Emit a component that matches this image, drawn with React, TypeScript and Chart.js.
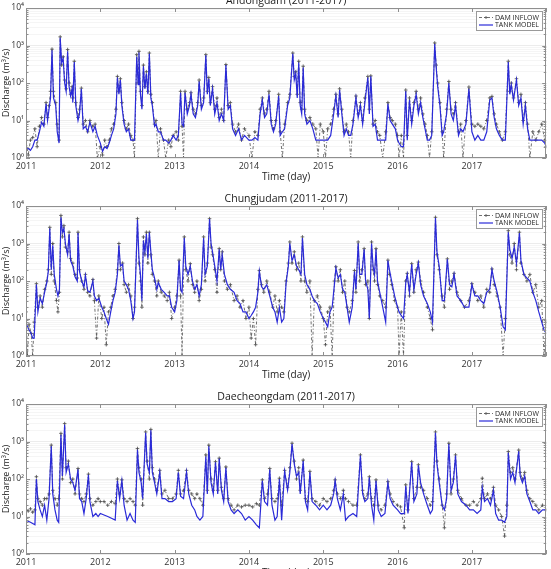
import React, { useEffect, useRef } from 'react';
import { Chart, registerables } from 'chart.js';

Chart.register(...registerables);

const FONT = '"Open Sans", "DejaVu Sans", sans-serif';
const BLUE = '#2a2ad8';
const GRAY = '#4d4d4d';

const yearTicks = [2011, 2012, 2013, 2014, 2015, 2016, 2017, 2018];
const yearLabels = ['2011', '2012', '2013', '2014', '2015', '2016', '2017', ''];
const decadeTicks = [1, 10, 100, 1000, 10000];
const decadeLabels = ['10⁰', '10¹', '10²', '10³', '10⁴'];
const seriesNames = ['DAM INFLOW', 'TANK MODEL'];
const panelTitles = ['Andongdam (2011-2017)', 'Chungjudam (2011-2017)', 'Daecheongdam (2011-2017)'];
const xAxisTitle = 'Time (day)';
const yAxisTitle = 'Discharge (m³/s)';

// ---------------- Andongdam ----------------
const andongT = [
  2011.00,2011.03,2011.06,2011.09,2011.12,2011.15,2011.18,2011.21,2011.24,2011.27,
  2011.29,2011.31,2011.33,2011.35,2011.37,2011.40,2011.42,2011.445,2011.46,2011.48,
  2011.50,2011.52,2011.54,2011.56,2011.58,2011.60,2011.62,2011.63,2011.65,2011.67,
  2011.70,2011.72,2011.745,2011.77,2011.80,2011.83,2011.86,2011.90,2011.93,2011.96,
  2012.00,2012.03,2012.06,2012.09,2012.12,2012.15,2012.18,2012.21,2012.23,2012.25,
  2012.27,2012.29,2012.32,2012.35,2012.38,2012.41,2012.44,2012.46,2012.49,2012.51,
  2012.52,2012.54,2012.56,2012.58,2012.60,2012.62,2012.64,2012.66,2012.68,2012.70,
  2012.73,2012.75,2012.78,2012.81,2012.85,2012.88,2012.92,2012.95,2012.98,2013.02,
  2013.05,2013.08,2013.10,2013.12,2013.14,2013.17,2013.20,2013.22,2013.25,2013.28,
  2013.31,2013.33,2013.36,2013.39,2013.42,2013.44,2013.46,2013.48,2013.51,2013.54,
  2013.57,2013.60,2013.63,2013.66,2013.69,2013.72,2013.75,2013.78,2013.82,2013.86,
  2013.90,2013.94,2014.00,2014.04,2014.08,2014.12,2014.15,2014.18,2014.21,2014.24,
  2014.27,2014.30,2014.33,2014.36,2014.40,2014.42,2014.45,2014.48,2014.52,2014.55,
  2014.59,2014.61,2014.63,2014.65,2014.67,2014.69,2014.71,2014.73,2014.75,2014.78,
  2014.82,2014.86,2014.90,2014.93,2014.96,2015.00,2015.03,2015.06,2015.10,2015.14,
  2015.17,2015.20,2015.22,2015.25,2015.28,2015.31,2015.34,2015.37,2015.40,2015.44,
  2015.47,2015.50,2015.53,2015.56,2015.60,2015.62,2015.64,2015.67,2015.70,2015.73,
  2015.76,2015.80,2015.84,2015.87,2015.90,2015.93,2015.97,2016.00,2016.02,2016.05,
  2016.08,2016.11,2016.13,2016.16,2016.19,2016.22,2016.25,2016.28,2016.31,2016.34,
  2016.37,2016.40,2016.43,2016.46,2016.50,2016.52,2016.54,2016.57,2016.60,2016.62,
  2016.66,2016.69,2016.72,2016.75,2016.78,2016.82,2016.85,2016.88,2016.92,2016.96,
  2017.00,2017.04,2017.08,2017.12,2017.16,2017.20,2017.24,2017.27,2017.30,2017.33,
  2017.37,2017.41,2017.45,2017.49,2017.51,2017.53,2017.56,2017.60,2017.63,2017.66,
  2017.69,2017.72,2017.75,2017.78,2017.82,2017.86,2017.90,2017.94,2017.98,2018.00,
];
const andongInflow = [
  3,1.2,3,3.5,6,2,7,12,8,30,
  12,25,60,800,60,30,8,3,1700,300,
  500,120,70,780,100,50,80,40,380,30,
  12,20,73,8,10,5,10,7,8,1,
  2,1.2,3,2,3,6,8,20,150,60,
  130,30,10,6,8,4,3,1,570,100,
  700,60,25,300,80,200,60,630,50,30,
  8,10,1,6,3,1,3,2,4,5,
  3,60,7,1,60,20,30,55,20,15,
  30,120,25,40,570,60,140,30,80,20,
  40,12,20,10,310,25,30,8,5,8,
  3,6,4,1,5,4,20,40,15,20,
  60,10,6,10,50,5,1,8,30,50,
  630,150,200,50,380,30,20,280,20,10,
  12,8,6,1,8,5,1,6,8,20,
  50,15,70,20,5,8,5,1,10,45,
  15,30,10,40,150,20,155,8,10,5,
  4,1,5,30,12,10,8,4,1,4,
  1,65,4,40,10,30,60,20,40,15,
  8,4,1,5,1170,300,100,30,5,1,
  20,110,20,15,30,5,8,1,10,78,
  8,7,8,7,6,10,40,44,15,8,
  5,3,5,380,60,100,40,130,30,50,
  10,30,8,1,5,3,5,8,3,2,
];
const andongModel = [
  2,1.8,1.6,2,3,3,5,9,7,28,
  10,20,40,750,40,25,5,2.5,1600,350,
  450,100,60,700,80,45,70,30,360,25,
  10,15,70,6,7,5,9,5,7,4,
  2.5,1.5,2,1.8,2.5,4,6,15,140,50,
  120,25,8,5,6,3,3,3,500,90,
  650,50,20,280,70,180,50,600,40,25,
  7,8,5,5,3,3,2.5,3,4,3,
  4,55,8,7,55,15,25,50,15,12,
  25,110,20,30,550,50,130,25,70,15,
  30,10,15,10,300,20,25,6,4,6,
  3,4,3,3,3.5,3,15,35,12,15,
  50,8,5,8,45,4,5,6,25,40,
  600,120,180,40,350,25,15,260,15,8,
  10,6,3,3,3,3,3,3,4,15,
  45,12,65,15,4,6,4,4,8,40,
  12,25,8,30,140,15,150,7,8,3,
  3,3,3,28,10,8,6,3,2.5,2,
  2,60,3,35,8,25,50,15,30,12,
  6,3,3,4,1100,250,80,25,4,5,
  15,100,15,10,25,4,6,5,8,70,
  5,3,4,3,3,5,35,40,12,6,
  4,3,3,360,50,90,35,120,25,40,
  8,25,6,3,3,3,3,3,2.5,2,
];

// ---------------- Chungjudam ----------------
const chungjuT = [
  2011.00,2011.02,2011.04,2011.07,2011.09,2011.11,2011.14,2011.16,2011.19,2011.22,
  2011.25,2011.28,2011.30,2011.32,2011.34,2011.36,2011.38,2011.41,2011.43,2011.45,
  2011.47,2011.49,2011.51,2011.53,2011.56,2011.58,2011.60,2011.63,2011.66,2011.69,
  2011.70,2011.72,2011.75,2011.78,2011.80,2011.83,2011.86,2011.90,2011.92,2011.95,
  2011.98,2012.02,2012.05,2012.08,2012.11,2012.14,2012.17,2012.20,2012.23,2012.25,
  2012.27,2012.30,2012.32,2012.35,2012.38,2012.41,2012.44,2012.46,2012.50,2012.52,
  2012.54,2012.56,2012.58,2012.60,2012.62,2012.64,2012.66,2012.68,2012.70,2012.73,
  2012.76,2012.78,2012.82,2012.86,2012.90,2012.93,2012.96,2013.00,2013.03,2013.06,
  2013.08,2013.10,2013.13,2013.15,2013.18,2013.21,2013.24,2013.27,2013.30,2013.33,
  2013.36,2013.39,2013.41,2013.44,2013.47,2013.49,2013.51,2013.54,2013.57,2013.60,
  2013.62,2013.64,2013.67,2013.71,2013.75,2013.80,2013.84,2013.88,2013.92,2013.96,
  2014.00,2014.03,2014.06,2014.09,2014.12,2014.14,2014.17,2014.20,2014.24,2014.28,
  2014.32,2014.35,2014.38,2014.41,2014.44,2014.47,2014.50,2014.53,2014.55,2014.58,
  2014.61,2014.64,2014.67,2014.70,2014.72,2014.75,2014.78,2014.82,2014.85,2014.88,
  2014.92,2014.96,2015.00,2015.03,2015.06,2015.09,2015.12,2015.15,2015.17,2015.20,
  2015.23,2015.26,2015.29,2015.32,2015.35,2015.39,2015.42,2015.44,2015.47,2015.49,
  2015.52,2015.55,2015.57,2015.60,2015.62,2015.65,2015.67,2015.69,2015.71,2015.73,
  2015.76,2015.80,2015.84,2015.87,2015.89,2015.92,2015.96,2016.00,2016.02,2016.05,
  2016.08,2016.11,2016.13,2016.16,2016.19,2016.22,2016.25,2016.28,2016.31,2016.35,
  2016.40,2016.44,2016.47,2016.51,2016.53,2016.56,2016.60,2016.63,2016.67,2016.70,
  2016.73,2016.76,2016.80,2016.85,2016.90,2016.96,2017.00,2017.04,2017.08,2017.12,
  2017.16,2017.20,2017.24,2017.27,2017.30,2017.34,2017.38,2017.42,2017.45,2017.49,
  2017.51,2017.54,2017.57,2017.60,2017.64,2017.66,2017.70,2017.74,2017.78,2017.82,
  2017.86,2017.90,2017.94,2017.97,2018.00,
];
const chungjuInflow = [
  15,1,7,4,1,8,85,20,40,20,
  60,100,200,2700,150,1000,100,30,15,50,
  5600,1500,3000,800,600,2000,400,300,150,120,
  2000,200,100,60,150,50,40,110,30,3,
  40,10,20,2,15,20,40,60,200,1000,
  200,300,80,50,80,40,10,20,4600,300,
  100,20,1500,500,2000,300,2000,500,150,100,
  40,100,50,40,30,50,10,20,40,360,
  40,1,1500,200,100,290,80,50,100,30,
  60,1500,100,300,4600,800,500,200,50,730,
  200,600,100,60,80,30,40,20,30,10,
  20,3,10,2,60,190,80,50,100,50,
  20,40,15,30,20,15,100,300,1100,300,
  600,200,300,100,1500,100,50,100,1,30,
  40,20,10,2,15,20,1,100,240,100,
  200,50,100,20,15,30,190,50,1100,100,
  200,730,80,100,10,1100,200,100,730,80,
  40,30,20,360,150,80,30,20,1,15,
  1,100,160,40,290,50,200,320,100,50,
  20,10,5,5000,500,200,40,20,390,60,
  100,160,50,30,20,30,85,50,30,40,
  20,60,50,210,80,40,20,1,10,2200,
  500,300,1000,200,2000,300,150,100,150,50,
  80,20,30,1,8,
];
const chungjuModel = [
  8,6,5,4,3,3,80,15,35,25,
  50,90,180,2500,200,900,150,60,40,60,
  5000,2000,2500,1000,500,1800,350,250,130,100,
  1900,180,100,70,140,55,50,100,40,30,
  35,20,15,10,7,15,30,50,150,900,
  250,280,100,80,60,30,10,15,4200,400,
  150,30,1200,600,1800,400,2000,600,200,120,
  60,90,60,50,40,40,20,15,30,350,
  60,50,1400,250,150,250,100,60,80,40,
  80,1400,150,250,4500,1000,600,250,100,700,
  200,500,150,80,60,50,30,25,15,15,
  10,12,15,20,50,180,70,60,80,40,
  20,15,8,20,8,10,90,250,1000,350,
  500,250,200,150,1400,150,80,60,40,30,
  25,15,10,8,6,15,20,80,220,120,
  150,60,50,20,8,20,180,60,1000,150,
  150,700,100,60,10,1000,250,150,700,100,
  50,20,8,350,200,100,40,20,15,12,
  10,90,150,50,280,60,150,300,80,40,
  25,15,8,4800,600,250,30,30,380,80,
  70,150,40,30,20,20,80,40,40,30,
  25,50,60,200,100,50,20,6,5,2000,
  700,400,800,300,1900,350,150,120,100,50,
  30,15,8,5,4,
];

// ---------------- Daecheongdam ----------------
const daecheongT = [
  2011.00,2011.03,2011.06,2011.09,2011.12,2011.14,2011.16,2011.19,2011.22,2011.25,
  2011.28,2011.31,2011.34,2011.36,2011.39,2011.42,2011.44,2011.47,2011.49,2011.52,
  2011.54,2011.57,2011.60,2011.63,2011.66,2011.70,2011.72,2011.75,2011.78,2011.81,
  2011.84,2011.86,2011.90,2011.94,2011.97,2012.00,2012.05,2012.10,2012.15,2012.20,
  2012.23,2012.26,2012.29,2012.32,2012.36,2012.40,2012.44,2012.47,2012.50,2012.52,
  2012.55,2012.57,2012.61,2012.63,2012.66,2012.68,2012.70,2012.73,2012.76,2012.80,
  2012.83,2012.87,2012.92,2012.97,2013.02,2013.05,2013.08,2013.12,2013.16,2013.19,
  2013.23,2013.27,2013.30,2013.34,2013.38,2013.42,2013.44,2013.46,2013.49,2013.52,
  2013.55,2013.58,2013.60,2013.63,2013.66,2013.69,2013.72,2013.76,2013.80,2013.85,
  2013.90,2013.95,2014.00,2014.05,2014.10,2014.14,2014.18,2014.21,2014.25,2014.28,
  2014.31,2014.35,2014.38,2014.41,2014.44,2014.48,2014.52,2014.55,2014.58,2014.61,
  2014.64,2014.67,2014.69,2014.73,2014.76,2014.79,2014.82,2014.85,2014.90,2014.95,
  2015.00,2015.05,2015.10,2015.14,2015.16,2015.19,2015.23,2015.27,2015.30,2015.34,
  2015.40,2015.45,2015.50,2015.53,2015.56,2015.60,2015.62,2015.65,2015.68,2015.71,
  2015.74,2015.78,2015.83,2015.87,2015.90,2015.94,2016.00,2016.04,2016.09,2016.11,
  2016.14,2016.19,2016.22,2016.26,2016.28,2016.31,2016.35,2016.40,2016.44,2016.47,
  2016.51,2016.53,2016.56,2016.60,2016.63,2016.66,2016.69,2016.72,2016.75,2016.78,
  2016.81,2016.86,2016.92,2016.97,2017.02,2017.07,2017.12,2017.14,2017.17,2017.21,
  2017.25,2017.29,2017.32,2017.36,2017.40,2017.44,2017.47,2017.49,2017.52,2017.55,
  2017.58,2017.63,2017.65,2017.68,2017.71,2017.74,2017.78,2017.82,2017.86,2017.90,
  2017.95,2018.00,
];
const daecheongInflow = [
  15,14,16,13,15,115,30,25,20,30,
  30,40,800,50,30,20,30,1650,100,3000,
  200,300,80,100,40,190,40,30,25,40,
  135,30,20,25,30,25,25,20,25,22,
  100,40,95,30,25,30,25,20,650,200,
  100,20,1800,300,100,2100,200,100,50,170,
  40,50,30,30,40,170,40,50,170,50,
  40,30,40,30,20,440,50,800,100,50,
  290,50,360,60,30,210,30,20,15,20,
  18,20,20,18,22,20,95,30,40,190,
  30,25,30,105,20,170,60,200,900,300,
  100,200,50,320,30,25,160,30,25,20,
  30,25,30,50,95,40,30,50,30,25,
  20,20,440,50,30,40,115,30,20,95,
  20,15,20,85,40,25,20,18,5,70,
  15,290,30,60,240,60,50,30,20,25,
  1800,300,100,20,5,40,900,40,100,440,
  50,30,20,20,25,20,30,105,30,40,
  30,60,20,15,10,3,20,540,150,200,
  100,590,150,100,150,50,30,25,20,15,
  20,15,
];
const daecheongModel = [
  8,7.5,7,6.5,6,100,25,15,10,20,
  8,30,750,40,15,8,7,1500,120,2800,
  150,250,100,80,50,180,30,25,12,30,
  130,25,10,12,10,12,11,10,9,8,
  90,30,90,20,8,12,8,7,600,150,
  80,30,1700,250,150,2000,150,80,40,150,
  30,30,25,25,30,150,35,30,150,40,
  20,15,10,8,10,400,40,750,80,40,
  280,40,350,50,25,200,25,15,12,15,
  12,8,10,8,6,5,90,25,20,180,
  20,8,10,100,8,160,50,150,850,250,
  120,150,40,300,25,15,150,25,20,15,
  20,15,20,40,90,30,15,40,8,10,
  12,10,420,40,25,30,110,20,8,90,
  15,10,12,80,30,20,15,12,12,65,
  12,280,25,40,230,80,40,20,12,15,
  1700,250,80,20,15,30,850,50,80,420,
  40,25,20,15,15,12,15,60,25,30,
  20,50,12,8,8,7,10,500,100,150,
  80,550,120,80,120,40,25,15,15,12,
  15,15,
];

// minor log ticks (1..9 per decade) built from the decade list
const logTicks: number[] = [];
for (let d = 0; d < decadeTicks.length - 1; d++) {
  for (let k = 1; k <= 9; k++) logTicks.push(decadeTicks[d] * k);
}
logTicks.push(decadeTicks[decadeTicks.length - 1]);

const framePlugin = {
  id: 'frame',
  afterDatasetsDraw(chart: any, _args: any, opts: any) {
    const { ctx, chartArea } = chart;
    const { left, top, right, bottom } = chartArea;
    const xs = chart.scales.x;
    const ys = chart.scales.y;
    ctx.save();
    ctx.strokeStyle = '#8f8f8f';
    ctx.lineWidth = 1;
    ctx.strokeRect(Math.round(left) + 0.5, Math.round(top) + 0.5, Math.round(right - left) - 1, Math.round(bottom - top) - 1);
    ctx.beginPath();
    logTicks.forEach((v) => {
      const y = Math.round(ys.getPixelForValue(v)) + 0.5;
      const len = decadeTicks.includes(v) ? 4 : 2.5;
      ctx.moveTo(left, y); ctx.lineTo(left + len, y);
      ctx.moveTo(right, y); ctx.lineTo(right - len, y);
    });
    yearTicks.forEach((v) => {
      const x = Math.round(xs.getPixelForValue(v)) + 0.5;
      ctx.moveTo(x, top); ctx.lineTo(x, top + 4);
      ctx.moveTo(x, bottom); ctx.lineTo(x, bottom - 4);
    });
    ctx.stroke();

    // panel title
    ctx.fillStyle = '#1a1a1a';
    ctx.font = `10.5px ${FONT}`;
    ctx.textAlign = 'center';
    ctx.textBaseline = 'middle';
    ctx.fillText(opts.title, (left + right) / 2, top - 7);

    // legend box
    ctx.font = `7px ${FONT}`;
    const tw = Math.max(...seriesNames.map((s) => ctx.measureText(s).width));
    const bw = Math.round(19 + tw + 3);
    const bh = 19;
    const bx = Math.round(right - 4 - bw);
    const by = Math.round(top + 3);
    ctx.fillStyle = '#ffffff';
    ctx.fillRect(bx, by, bw, bh);
    ctx.strokeStyle = '#9a9a9a';
    ctx.lineWidth = 1;
    ctx.strokeRect(bx + 0.5, by + 0.5, bw, bh);
    const r1 = by + 6.5;
    const r2 = by + 14;
    ctx.strokeStyle = GRAY;
    ctx.lineWidth = 0.8;
    ctx.setLineDash([3, 2, 1, 2]);
    ctx.beginPath(); ctx.moveTo(bx + 3, r1); ctx.lineTo(bx + 17, r1); ctx.stroke();
    ctx.setLineDash([]);
    ctx.beginPath();
    ctx.moveTo(bx + 8.5, r1); ctx.lineTo(bx + 11.5, r1);
    ctx.moveTo(bx + 10, r1 - 1.5); ctx.lineTo(bx + 10, r1 + 1.5);
    ctx.stroke();
    ctx.strokeStyle = BLUE;
    ctx.lineWidth = 1.2;
    ctx.beginPath(); ctx.moveTo(bx + 3, r2); ctx.lineTo(bx + 17, r2); ctx.stroke();
    ctx.fillStyle = '#222';
    ctx.textAlign = 'left';
    ctx.fillText(seriesNames[0], bx + 19, r1);
    ctx.fillText(seriesNames[1], bx + 19, r2);
    ctx.restore();
  },
};

type PanelProps = { title: string; t: number[]; inflow: number[]; model: number[]; top: number };

function Panel({ title, t, inflow, model, top }: PanelProps) {
  const ref = useRef<HTMLCanvasElement>(null);
  useEffect(() => {
    const n = Math.min(t.length, inflow.length, model.length);
    const idx = Array.from({ length: n }, (_, i) => i);
    const chart = new Chart(ref.current as HTMLCanvasElement, {
      type: 'line',
      data: {
        datasets: [
          {
            label: seriesNames[1],
            data: idx.map((i) => ({ x: t[i], y: model[i] })),
            borderColor: BLUE,
            borderWidth: 1.2,
            pointRadius: 0,
            tension: 0,
            fill: false,
          },
          {
            label: seriesNames[0],
            data: idx.map((i) => ({ x: t[i], y: inflow[i] })),
            borderColor: GRAY,
            borderWidth: 0.8,
            borderDash: [3, 2, 1, 2],
            pointRadius: 1.8,
            pointStyle: 'cross',
            pointBorderColor: GRAY,
            pointBackgroundColor: GRAY,
            pointBorderWidth: 0.8,
            tension: 0,
            fill: false,
          },
        ],
      },
      options: {
        animation: false,
        responsive: false,
        devicePixelRatio: 1,
        events: [],
        layout: { padding: { left: 0, right: 4, top: 22, bottom: 0 } },
        plugins: {
          legend: { display: false },
          tooltip: { enabled: false },
          title: { display: false },
          frame: { title },
        } as any,
        scales: {
          x: {
            type: 'linear',
            min: 2011,
            max: 2018,
            afterBuildTicks: (s: any) => { s.ticks = yearTicks.map((v) => ({ value: v })); },
            ticks: {
              callback: (v: any) => yearLabels[yearTicks.indexOf(Number(v))] ?? '',
              font: { family: FONT, size: 9 },
              color: '#333',
              padding: 3,
              maxRotation: 0,
              autoSkip: false,
            },
            grid: { display: false, drawTicks: false },
            border: { display: false },
            title: { display: true, text: xAxisTitle, font: { family: FONT, size: 10 }, color: '#222', padding: { top: 0, bottom: 3 } },
            afterFit: (s: any) => { s.height = 28; },
          },
          y: {
            type: 'logarithmic',
            min: 1,
            max: 10000,
            afterBuildTicks: (s: any) => { s.ticks = logTicks.map((v) => ({ value: v })); },
            ticks: {
              callback: (v: any) => {
                const i = decadeTicks.indexOf(Number(v));
                return i >= 0 ? decadeLabels[i] : '';
              },
              font: { family: FONT, size: 8.5 },
              color: '#333',
              padding: 2,
              autoSkip: false,
            },
            grid: {
              color: (c: any) => (decadeTicks.includes(c.tick?.value) ? '#ececec' : '#f5f5f5'),
              drawTicks: false,
              lineWidth: 1,
            },
            border: { display: false },
            title: { display: true, text: yAxisTitle, font: { family: FONT, size: 9 }, color: '#222', padding: { top: 1, bottom: 0 } },
            afterFit: (s: any) => { s.width = 26; },
          },
        },
      } as any,
      plugins: [framePlugin as any],
    });
    return () => chart.destroy();
  }, []);
  return (
    <canvas
      ref={ref}
      width={551}
      height={200}
      style={{ position: 'absolute', left: 0, top, width: 551, height: 200, display: 'block' }}
    />
  );
}

export default function App() {
  return (
    <div style={{ position: 'fixed', left: 0, top: 0, width: 551, height: 569, overflow: 'hidden', background: '#fff' }}>
      <Panel title={panelTitles[0]} t={andongT} inflow={andongInflow} model={andongModel} top={-14} />
      <Panel title={panelTitles[1]} t={chungjuT} inflow={chungjuInflow} model={chungjuModel} top={184} />
      <Panel title={panelTitles[2]} t={daecheongT} inflow={daecheongInflow} model={daecheongModel} top={382} />
    </div>
  );
}
